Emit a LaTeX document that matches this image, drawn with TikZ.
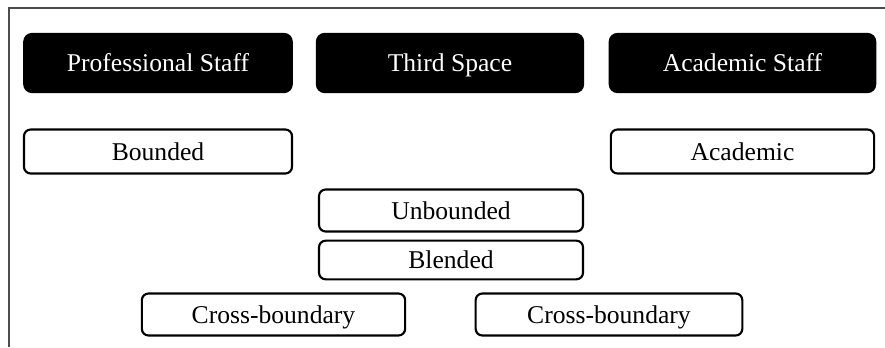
\documentclass[tikz,border=0pt]{standalone}
\usepackage{fontspec}
\setmainfont{Liberation Serif}
\begin{document}
\begin{tikzpicture}[x=0.75pt,y=-0.75pt,
  headbox/.style={draw=black,fill=black,text=white,rounded corners=6pt,line width=1.2pt,
    inner sep=0pt,text height=17pt,text depth=4pt,font=\fontsize{19.2}{22}\selectfont,minimum width=201pt,minimum height=44pt},
  itembox/.style={draw=black,fill=white,rounded corners=5pt,line width=1.6pt,
    inner sep=0pt,text height=17pt,text depth=4pt,font=\fontsize{19.2}{22}\selectfont,minimum width=198pt,minimum height=32pt}]
\useasboundingbox (0,0) rectangle (885,347);
\draw[line width=1.5pt,draw=black!70] (9,347) -- (9,8) -- (885,8);
\node[headbox,minimum width=201pt] (ps) at (158,63) {Professional Staff};
\node[headbox,minimum width=200pt] (ts) at (450,63) {Third Space};
\node[headbox,minimum width=199.5pt] (as) at (742.5,63) {Academic Staff};
\node[itembox,minimum width=201pt,minimum height=33pt] (bd) at (158,151.5) {Bounded};
\node[itembox,minimum width=197.5pt,minimum height=33pt] (ac) at (742.5,151.5) {Academic};
\node[itembox,minimum width=198pt,minimum height=31.5pt] (ub) at (451,210.5) {Unbounded};
\node[itembox,minimum width=198pt,minimum height=29pt] (bl) at (451,260) {Blended};
\node[itembox,minimum width=197.5pt,minimum height=31.5pt] (cb1) at (273.5,314.5) {Cross-boundary};
\node[itembox,minimum width=200pt,minimum height=31.5pt] (cb2) at (609,314.5) {Cross-boundary};
\end{tikzpicture}
\end{document}
